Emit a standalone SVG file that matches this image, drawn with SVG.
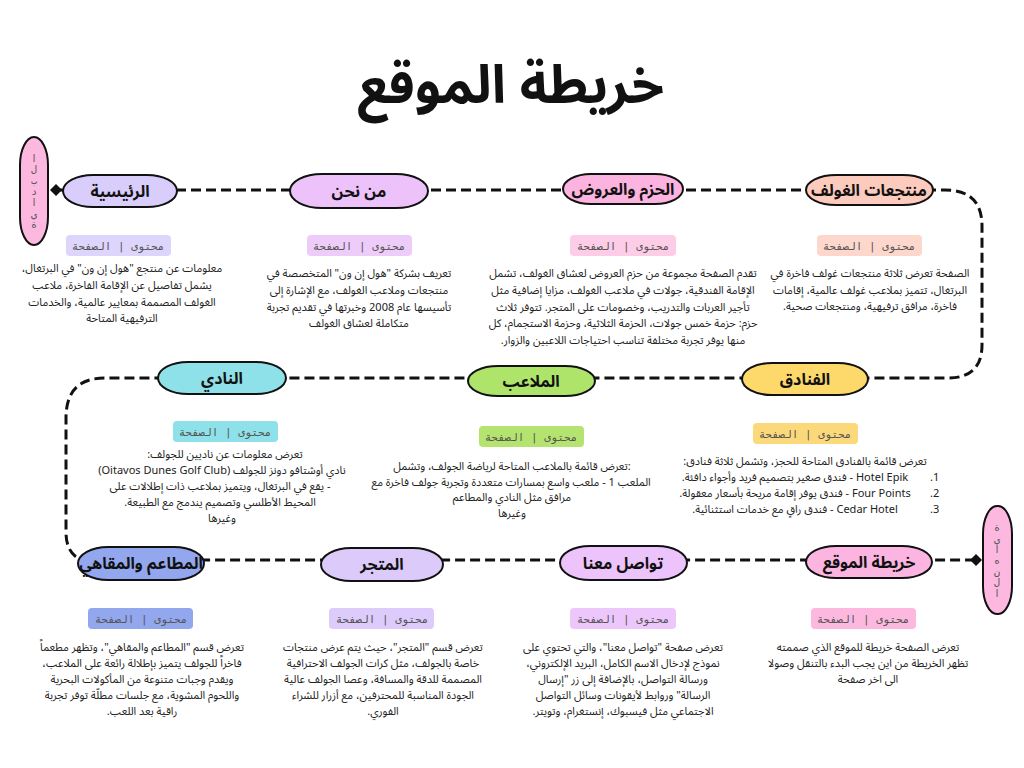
<svg xmlns="http://www.w3.org/2000/svg" width="1024" height="768" viewBox="0 0 1024 768">
<style>
.bg{fill:#ffffff}
.title{font-family:"Noto Sans Arabic","Noto Sans","DejaVu Sans",sans-serif;font-weight:bold;font-size:53px;fill:#111;text-anchor:middle}
.node{stroke:#111;stroke-width:2}
.nt{font-family:"Noto Sans Arabic","Noto Sans","DejaVu Sans",sans-serif;font-weight:bold;font-size:16px;fill:#111;text-anchor:middle;direction:rtl}
.lbl{font-family:"DejaVu Sans Mono","Noto Sans Arabic",monospace;font-size:11px;fill:#555;text-anchor:middle;letter-spacing:1.5px;direction:rtl}
.desc{font-family:"Noto Sans Arabic","Noto Sans","DejaVu Sans",sans-serif;font-size:11px;fill:#222;text-anchor:middle;direction:rtl}
.conn{fill:none;stroke:#111;stroke-width:3;stroke-dasharray:10 5}
.pill{fill:#fdb8e0;stroke:#111;stroke-width:2}
.vt{font-family:"DejaVu Sans Mono","Noto Sans Arabic",monospace;font-size:10px;fill:#555;writing-mode:vertical-rl;text-orientation:upright;text-anchor:middle}
</style>
<defs>
<marker id="dia" viewBox="-6 -6 12 12" markerWidth="12" markerHeight="12" markerUnits="userSpaceOnUse" orient="auto">
<path d="M -6 0 L 0 -6 L 6 0 L 0 6 Z" fill="#111"/>
</marker>
</defs>
<rect class="bg" width="1024" height="768"/>
<text class="title" x="511" y="103">خريطة الموقع</text>

<g id="connectors">
<path class="conn" d="M 56 190 H 945 Q 982 190 982 226 V 345 Q 982 378 948 378 H 105 Q 66 378 66 418 V 532 Q 66 554 82 560 H 976" marker-start="url(#dia)" marker-end="url(#dia)"/>
</g>

<g id="start">
<rect class="pill" x="20" y="137" width="28" height="108" rx="14" ry="28"/>
<text class="vt" x="34" y="191" style="direction:ltr;unicode-bidi:bidi-override">البداية</text>
</g>
<g id="end">
<rect class="pill" x="983" y="506" width="29" height="108" rx="14" ry="28"/>
<text class="vt" x="997" y="560">النهاية</text>
</g>

<g id="home">
<rect class="node" x="63" y="175" width="114" height="32" rx="30" ry="16" fill="#d9cdfc"/>
<text class="nt" x="120" y="197">الرئيسية</text>
<rect x="66" y="235" width="105" height="21" rx="4" fill="#ddd5fb"/>
<text class="lbl" x="118" y="250">محتوى | الصفحة</text>
<text class="desc"><tspan x="122" y="272">معلومات عن منتجع "هول إن ون" في البرتغال،</tspan><tspan x="122" y="289">يشمل تفاصيل عن الإقامة الفاخرة، ملاعب</tspan><tspan x="122" y="306">الغولف المصممة بمعايير عالمية، والخدمات</tspan><tspan x="122" y="322">الترفيهية المتاحة</tspan></text>
</g>

<g id="about">
<rect class="node" x="290" y="174" width="138" height="34" rx="32" ry="17" fill="#edc2fa"/>
<text class="nt" x="359" y="197">من نحن</text>
<rect x="307" y="235" width="105" height="21" rx="4" fill="#eeccf9"/>
<text class="lbl" x="359" y="250">محتوى | الصفحة</text>
<text class="desc"><tspan x="359" y="277">تعريف بشركة "هول إن ون" المتخصصة في</tspan><tspan x="359" y="294">منتجعات وملاعب الغولف، مع الإشارة إلى</tspan><tspan x="359" y="311">تأسيسها عام 2008 وخبرتها في تقديم تجربة</tspan><tspan x="359" y="327">متكاملة لعشاق الغولف</tspan></text>
</g>

<g id="packages">
<rect class="node" x="563" y="174" width="120" height="30" rx="28" ry="15" fill="#fdb3e0"/>
<text class="nt" x="623" y="195">الحزم والعروض</text>
<rect x="570" y="235" width="106" height="21" rx="4" fill="#fdcde8"/>
<text class="lbl" x="623" y="250">محتوى | الصفحة</text>
<text class="desc"><tspan x="623" y="277">تقدم الصفحة مجموعة من حزم العروض لعشاق الغولف، تشمل</tspan><tspan x="623" y="294">الإقامة الفندقية، جولات في ملاعب الغولف، مزايا إضافية مثل</tspan><tspan x="623" y="311">تأجير العربات والتدريب، وخصومات على المتجر. تتوفر ثلاث</tspan><tspan x="623" y="327">حزم: حزمة خمس جولات، الحزمة الثلاثية، وحزمة الاستجمام، كل</tspan><tspan x="623" y="344">منها يوفر تجربة مختلفة تناسب احتياجات اللاعبين والزوار.</tspan></text>
</g>

<g id="resorts">
<rect class="node" x="806" y="175" width="127" height="30" rx="30" ry="15" fill="#fdcbbd"/>
<text class="nt" x="869" y="196">منتجعات الغولف</text>
<rect x="817" y="235" width="105" height="21" rx="4" fill="#fdd6cc"/>
<text class="lbl" x="869" y="250">محتوى | الصفحة</text>
<text class="desc"><tspan x="870" y="277">الصفحة تعرض ثلاثة منتجعات غولف فاخرة في</tspan><tspan x="870" y="294">البرتغال، تتميز بملاعب غولف عالمية، إقامات</tspan><tspan x="870" y="310">فاخرة، مرافق ترفيهية، ومنتجعات صحية.</tspan></text>
</g>

<g id="hotels">
<rect class="node" x="742" y="363" width="126" height="32" rx="30" ry="16" fill="#fdd86a"/>
<text class="nt" x="805" y="385">الفنادق</text>
<rect x="753" y="423" width="105" height="21" rx="4" fill="#fbd97a"/>
<text class="lbl" x="805" y="438">محتوى | الصفحة</text>
<text class="desc"><tspan x="805" y="465">تعرض قائمة بالفنادق المتاحة للحجز، وتشمل ثلاثة فنادق:</tspan><tspan x="795" y="481">Hotel Epik - فندق صغير بتصميم فريد وأجواء دافئة.</tspan><tspan x="795" y="497">Four Points - فندق يوفر إقامة مريحة بأسعار معقولة.</tspan><tspan x="795" y="513">Cedar Hotel - فندق راقٍ مع خدمات استثنائية.</tspan></text>
<text class="desc" style="text-anchor:end"><tspan x="930" y="481">1.</tspan><tspan x="930" y="497">2.</tspan><tspan x="930" y="513">3.</tspan></text>
</g>

<g id="courses">
<rect class="node" x="468" y="366" width="127" height="30" rx="30" ry="15" fill="#aee46a"/>
<text class="nt" x="531" y="387">الملاعب</text>
<rect x="479" y="426" width="105" height="21" rx="4" fill="#b4e46f"/>
<text class="lbl" x="531" y="441">محتوى | الصفحة</text>
<text class="desc"><tspan x="512" y="470">:تعرض قائمة بالملاعب المتاحة لرياضة الجولف، وتشمل</tspan><tspan x="511" y="486">الملعب 1 - ملعب واسع بمسارات متعددة وتجربة جولف فاخرة مع</tspan><tspan x="512" y="501">مرافق مثل النادي والمطاعم</tspan><tspan x="512" y="517">وغيرها</tspan></text>
</g>

<g id="club">
<rect class="node" x="158" y="362" width="128" height="32" rx="30" ry="16" fill="#8ee1e8"/>
<text class="nt" x="222" y="384">النادي</text>
<rect x="173" y="421" width="105" height="21" rx="4" fill="#8ee1e8"/>
<text class="lbl" x="225" y="436">محتوى | الصفحة</text>
<text class="desc"><tspan x="225" y="458">تعرض معلومات عن ناديين للجولف:</tspan><tspan x="222" y="474">نادي أوشتافو دونز للجولف (Oitavos Dunes Golf Club)</tspan><tspan x="220" y="490">- يقع في البرتغال، ويتميز بملاعب ذات إطلالات على</tspan><tspan x="220" y="506">المحيط الأطلسي وتصميم يندمج مع الطبيعة.</tspan><tspan x="222" y="522">وغيرها</tspan></text>
</g>

<g id="restaurants">
<rect class="node" x="78" y="547" width="126" height="33" rx="30" ry="16.5" fill="#93a7ee"/>
<text class="nt" x="141" y="569">المطاعم والمقاهي</text>
<rect x="88" y="608" width="105" height="21" rx="4" fill="#93a7ee"/>
<text class="lbl" x="141" y="623">محتوى | الصفحة</text>
<text class="desc"><tspan x="142" y="651">تعرض قسم "المطاعم والمقاهي"، وتظهر مطعماً</tspan><tspan x="142" y="667">فاخراً للجولف يتميز بإطلالة رائعة على الملاعب،</tspan><tspan x="142" y="683">ويقدم وجبات متنوعة من المأكولات البحرية</tspan><tspan x="142" y="699">واللحوم المشوية، مع جلسات مطلّة توفر تجربة</tspan><tspan x="142" y="715">راقية بعد اللعب.</tspan></text>
</g>

<g id="shop">
<rect class="node" x="321" y="548" width="122" height="33" rx="30" ry="16.5" fill="#dccafb"/>
<text class="nt" x="382" y="570">المتجر</text>
<rect x="329" y="608" width="105" height="21" rx="4" fill="#dccbfb"/>
<text class="lbl" x="382" y="623">محتوى | الصفحة</text>
<text class="desc"><tspan x="383" y="651">تعرض قسم "المتجر"، حيث يتم عرض منتجات</tspan><tspan x="383" y="667">خاصة بالجولف، مثل كرات الجولف الاحترافية</tspan><tspan x="383" y="683">المصممة للدقة والمسافة، وعصا الجولف عالية</tspan><tspan x="383" y="699">الجودة المناسبة للمحترفين، مع أزرار للشراء</tspan><tspan x="383" y="715">الفوري.</tspan></text>
</g>

<g id="contact">
<rect class="node" x="560" y="546" width="127" height="34" rx="30" ry="17" fill="#edc3fb"/>
<text class="nt" x="623" y="569">تواصل معنا</text>
<rect x="570" y="608" width="106" height="21" rx="4" fill="#edc6fb"/>
<text class="lbl" x="623" y="623">محتوى | الصفحة</text>
<text class="desc"><tspan x="623" y="651">تعرض صفحة "تواصل معنا"، والتي تحتوي على</tspan><tspan x="623" y="667">نموذج لإدخال الاسم الكامل، البريد الإلكتروني،</tspan><tspan x="623" y="683">ورسالة التواصل، بالإضافة إلى زر "إرسال</tspan><tspan x="623" y="699">الرسالة" وروابط لأيقونات وسائل التواصل</tspan><tspan x="623" y="715">الاجتماعي مثل فيسبوك، إنستغرام، وتويتر.</tspan></text>
</g>

<g id="sitemap">
<rect class="node" x="806" y="546" width="126" height="32" rx="30" ry="16" fill="#fcb5e0"/>
<text class="nt" x="869" y="568">خريطة الموقع</text>
<rect x="811" y="608" width="105" height="21" rx="4" fill="#fdb8e0"/>
<text class="lbl" x="863" y="623">محتوى | الصفحة</text>
<text class="desc"><tspan x="868" y="651">تعرض الصفحة خريطة للموقع الذي صممته</tspan><tspan x="868" y="667">تظهر الخريطة من اين يجب البدء بالتنقل وصولا</tspan><tspan x="868" y="683">الى اخر صفحة</tspan></text>
</g>
</svg>
